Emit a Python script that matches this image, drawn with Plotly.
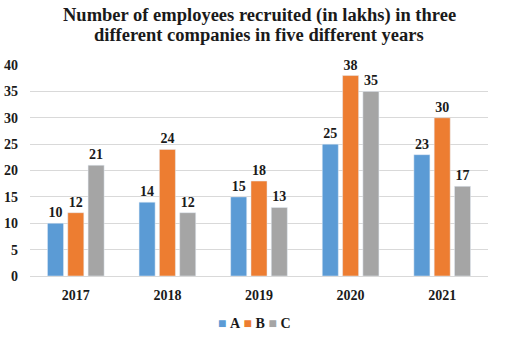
import plotly.graph_objects as go

years = ["2017", "2018", "2019", "2020", "2021"]
series_names = ["A", "B", "C"]
a_vals = [10, 14, 15, 25, 23]
b_vals = [12, 24, 18, 38, 30]
c_vals = [21, 12, 13, 35, 17]
colors = ["#5b9bd5", "#ed7d31", "#a5a5a5"]
title_lines = ["Number of employees recruited (in lakhs) in three",
               "different companies in five different years"]

font_family = "'Liberation Serif', 'DejaVu Serif', serif"
txt_col = "#1a1a1a"

fig = go.Figure()
for name, vals, col in zip(series_names, [a_vals, b_vals, c_vals], colors):
    fig.add_trace(go.Bar(
        x=years, y=vals, name=name, marker_color=col,
        text=[f"<b>{v}</b>" for v in vals], textposition="outside",
        textfont=dict(family=font_family, size=14, color=txt_col),
        cliponaxis=False,
    ))

legend_text = "&nbsp;".join(
    f"<span style='color:{c}'>■</span>&nbsp;<b>{n}</b>" for n, c in zip(series_names, colors)
)

top, bottom = 65, 62
ph = 338 - top - bottom
y0px = 338 - bottom

annotations = []
for line, cy in zip(title_lines, [15, 35]):
    annotations.append(dict(
        text=f"<b>{line}</b>", xref="paper", yref="paper", x=0.5, y=(y0px - cy) / ph,
        xanchor="center", yanchor="middle", showarrow=False,
        font=dict(family=font_family, size=18.5, color=txt_col)))
annotations.append(dict(
    text=legend_text, xref="paper", yref="paper", x=0.49, y=-(323 - y0px) / ph,
    xanchor="center", yanchor="middle", showarrow=False,
    font=dict(family=font_family, size=14, color=txt_col)))

fig.update_layout(
    width=527, height=338,
    margin=dict(l=30, r=39, t=top, b=bottom),
    paper_bgcolor="white", plot_bgcolor="white",
    barmode="group", bargap=0.335, bargroupgap=0.21,
    font=dict(family=font_family, size=14, color=txt_col),
    showlegend=False,
    annotations=annotations,
)
fig.update_xaxes(showgrid=False, showline=True, linecolor="#d9d9d9",
                 tickfont=dict(family=font_family, size=14, color=txt_col),
                 ticks="", ticklabelstandoff=6, tickprefix="<b>", ticksuffix="</b>")
fig.update_yaxes(range=[0, 40], dtick=5, showgrid=True, gridcolor="#d9d9d9",
                 zeroline=False, showline=False, ticks="", automargin=False,
                 ticklabelstandoff=11,
                 tickfont=dict(family=font_family, size=14, color=txt_col),
                 tickprefix="<b>", ticksuffix="</b>")

fig.write_html("out.html")
